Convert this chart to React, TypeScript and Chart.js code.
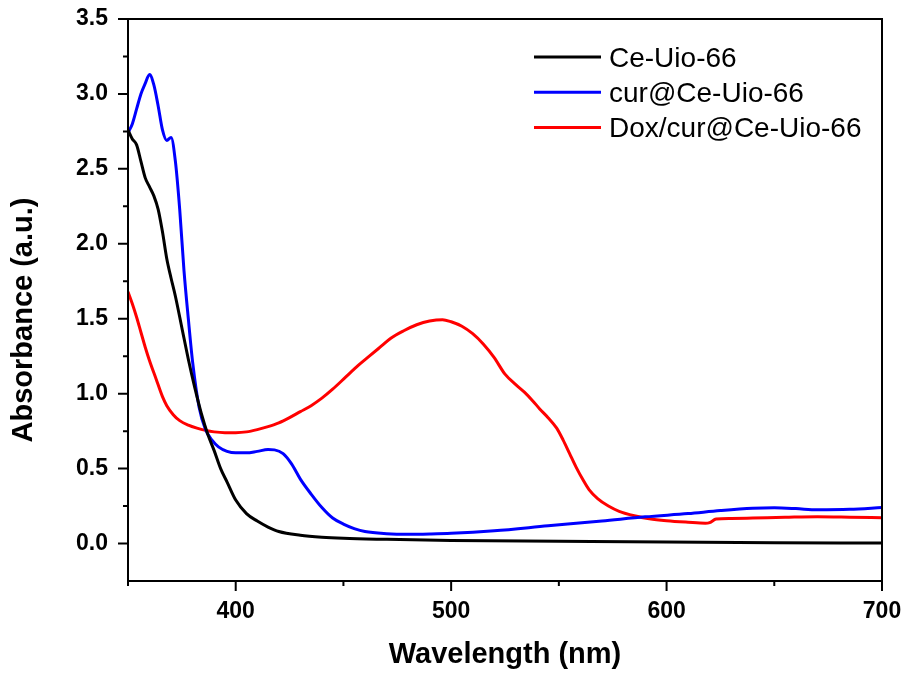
import React, { useEffect, useRef } from "react";
import { Chart, registerables } from "chart.js";

Chart.register(...registerables);

// ---- data ----
const ceWl = [350, 352, 354, 356, 358, 360, 362, 364, 366, 368, 370, 372, 375, 378, 381, 384, 387, 390, 393, 396, 400, 405, 410, 415, 420, 430, 440, 450, 470, 500, 550, 600, 650, 700];
const ceAbs = [2.76, 2.70, 2.66, 2.55, 2.44, 2.38, 2.32, 2.23, 2.08, 1.90, 1.77, 1.65, 1.44, 1.23, 1.04, 0.87, 0.73, 0.62, 0.50, 0.41, 0.29, 0.20, 0.15, 0.11, 0.08, 0.055, 0.042, 0.035, 0.028, 0.02, 0.015, 0.01, 0.006, 0.003];

const curWl = [350, 352, 354, 356, 358, 360, 362, 364, 366, 368, 370, 372, 374, 376, 378, 380, 383, 386, 389, 392, 396, 400, 405, 410, 415, 418, 422, 426, 430, 435, 440, 445, 450, 455, 460, 470, 480, 490, 500, 520, 545, 570, 590, 610, 625, 640, 650, 660, 670, 685, 700];
const curAbs = [2.74, 2.80, 2.90, 3.00, 3.07, 3.13, 3.06, 2.92, 2.76, 2.69, 2.71, 2.55, 2.23, 1.82, 1.50, 1.21, 0.91, 0.76, 0.69, 0.645, 0.615, 0.605, 0.605, 0.615, 0.627, 0.625, 0.60, 0.53, 0.43, 0.33, 0.24, 0.17, 0.13, 0.10, 0.08, 0.066, 0.062, 0.064, 0.068, 0.085, 0.118, 0.15, 0.178, 0.20, 0.22, 0.235, 0.238, 0.233, 0.225, 0.228, 0.24];

const doxWl = [350, 352, 354, 356, 358, 360, 363, 366, 368, 371, 374, 378, 382, 386, 390, 395, 400, 405, 410, 415, 420, 425, 430, 435, 440, 445, 451, 457, 462, 467, 472, 478, 484, 490, 496, 500, 505, 510, 515, 520, 525, 530, 534, 538, 541, 545, 549, 552, 555, 558, 561, 564, 568, 573, 578, 585, 592, 600, 610, 618, 620, 623, 630, 640, 655, 670, 685, 700];
const doxAbs = [1.68, 1.60, 1.51, 1.41, 1.31, 1.22, 1.10, 0.98, 0.92, 0.86, 0.82, 0.79, 0.77, 0.755, 0.745, 0.74, 0.74, 0.745, 0.76, 0.78, 0.805, 0.84, 0.88, 0.92, 0.97, 1.03, 1.11, 1.19, 1.25, 1.31, 1.37, 1.42, 1.46, 1.485, 1.494, 1.48, 1.45, 1.40, 1.33, 1.24, 1.13, 1.06, 1.01, 0.95, 0.90, 0.84, 0.77, 0.69, 0.60, 0.51, 0.43, 0.36, 0.30, 0.25, 0.215, 0.185, 0.165, 0.152, 0.142, 0.136, 0.14, 0.163, 0.167, 0.17, 0.175, 0.179, 0.176, 0.172];

const seriesLabels = ["Ce-Uio-66", "cur@Ce-Uio-66", "Dox/cur@Ce-Uio-66"];
const seriesColors = ["#000000", "#0000ff", "#ff0000"];

const xMajorTicks = [400, 500, 600, 700];
const xMinorTicks = [350, 450, 550, 650];
const yMajorTicks = [0, 0.5, 1, 1.5, 2, 2.5, 3, 3.5];
const yMinorTicks = [0.25, 0.75, 1.25, 1.75, 2.25, 2.75, 3.25];

const xTitle = "Wavelength (nm)";
const yTitle = "Absorbance (a.u.)";

const FONT = "'Liberation Sans', Arial, Helvetica, sans-serif";

const toPoints = (xs: number[], ys: number[]) => xs.map((x, i) => ({ x, y: ys[i] }));

const framePlugin = {
  id: "frame",
  afterDraw(chart: any) {
    const { ctx, chartArea } = chart;
    const { left, right, top, bottom } = chartArea;
    const xs = chart.scales.x;
    const ys = chart.scales.y;
    ctx.save();
    ctx.strokeStyle = "#000";
    ctx.lineWidth = 2;
    ctx.strokeRect(left, top, right - left, bottom - top);
    ctx.beginPath();
    yMajorTicks.forEach((v) => {
      const p = ys.getPixelForValue(v);
      ctx.moveTo(left - 10, p);
      ctx.lineTo(left, p);
    });
    yMinorTicks.forEach((v) => {
      const p = ys.getPixelForValue(v);
      ctx.moveTo(left - 5, p);
      ctx.lineTo(left, p);
    });
    xMajorTicks.forEach((v) => {
      const p = xs.getPixelForValue(v);
      ctx.moveTo(p, bottom);
      ctx.lineTo(p, bottom + 10);
    });
    xMinorTicks.forEach((v) => {
      const p = xs.getPixelForValue(v);
      ctx.moveTo(p, bottom);
      ctx.lineTo(p, bottom + 5);
    });
    ctx.stroke();

    // y axis title
    ctx.save();
    ctx.translate(24, 320);
    ctx.rotate(-Math.PI / 2);
    ctx.font = `bold 29px ${FONT}`;
    ctx.fillStyle = "#000";
    ctx.textAlign = "center";
    ctx.textBaseline = "middle";
    ctx.fillText(yTitle, 0, 0);
    ctx.restore();

    // legend
    ctx.font = `28px ${FONT}`;
    ctx.textBaseline = "alphabetic";
    ctx.textAlign = "left";
    chart.data.datasets.forEach((ds: any, i: number) => {
      const ly = 57 + i * 35.3;
      ctx.strokeStyle = ds.borderColor;
      ctx.lineWidth = 3;
      ctx.beginPath();
      ctx.moveTo(534, ly);
      ctx.lineTo(601, ly);
      ctx.stroke();
      ctx.fillStyle = "#000";
      ctx.fillText(ds.label, 609, ly + 9.5);
    });
    ctx.restore();
  },
};

export default function App() {
  const ref = useRef<HTMLCanvasElement | null>(null);
  useEffect(() => {
    document.body.style.margin = "0";
    const canvas = ref.current;
    if (!canvas) return;
    const datasets = [
      toPoints(ceWl, ceAbs),
      toPoints(curWl, curAbs),
      toPoints(doxWl, doxAbs),
    ].map((data, i) => ({
      label: seriesLabels[i],
      data,
      borderColor: seriesColors[i],
      backgroundColor: seriesColors[i],
      borderWidth: 3,
      pointRadius: 0,
      cubicInterpolationMode: "monotone" as const,
      fill: false,
    }));
    const chart = new Chart(canvas, {
      type: "line",
      data: { datasets },
      plugins: [framePlugin],
      options: {
        animation: false,
        responsive: true,
        maintainAspectRatio: false,
        layout: { padding: { left: 0, top: 19, right: 25, bottom: 0 } },
        plugins: { legend: { display: false }, tooltip: { enabled: false } },
        scales: {
          x: {
            type: "linear",
            min: 350,
            max: 700,
            grid: { display: false, drawTicks: false },
            border: { display: false },
            afterBuildTicks: (s: any) => {
              s.ticks = xMajorTicks.map((v) => ({ value: v }));
            },
            afterFit: (s: any) => {
              s.height = 94;
              s.paddingLeft = 0;
              s.paddingRight = 0;
              s.paddingTop = 0;
              s.paddingBottom = 0;
            },
            ticks: {
              autoSkip: false,
              maxRotation: 0,
              padding: 17,
              color: "#000",
              font: { family: FONT, size: 23, weight: "bold" },
              callback: (v: any) => String(v),
            },
            title: {
              display: true,
              text: xTitle,
              color: "#000",
              font: { family: FONT, size: 29, weight: "bold" },
              padding: { top: 0, bottom: 3 },
            },
          },
          y: {
            type: "linear",
            min: -0.25,
            max: 3.5,
            grid: { display: false, drawTicks: false },
            border: { display: false },
            afterBuildTicks: (s: any) => {
              s.ticks = yMajorTicks.map((v) => ({ value: v }));
            },
            afterFit: (s: any) => {
              s.width = 128;
              s.paddingLeft = 0;
              s.paddingRight = 0;
              s.paddingTop = 0;
              s.paddingBottom = 0;
            },
            ticks: {
              autoSkip: false,
              padding: 20,
              color: "#000",
              font: { family: FONT, size: 23, weight: "bold" },
              callback: (v: any) => Number(v).toFixed(1),
            },
          },
        },
      },
    });
    return () => chart.destroy();
  }, []);
  return (
    <div style={{ position: "absolute", left: 0, top: 0, width: 907, height: 675, background: "#fff" }}>
      <canvas ref={ref} />
    </div>
  );
}
